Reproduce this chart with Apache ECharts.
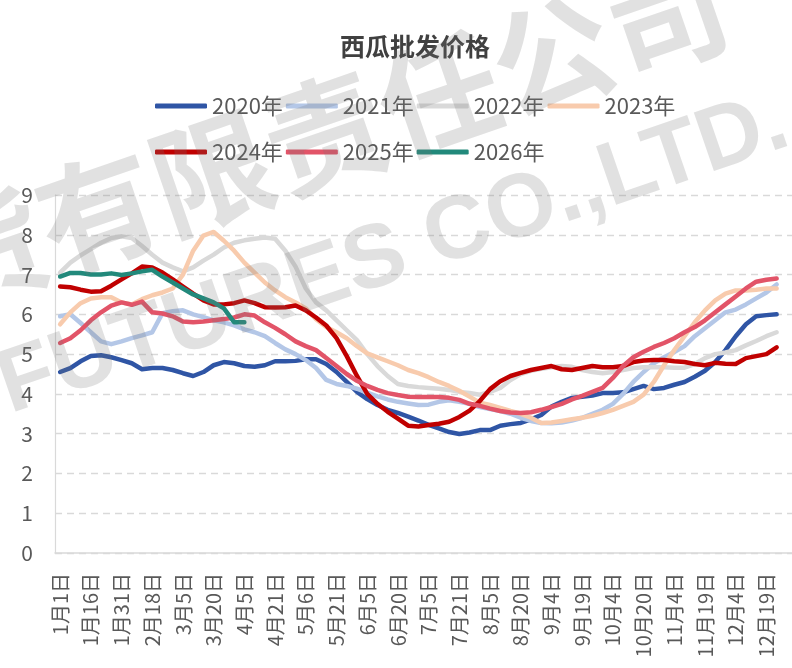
<!DOCTYPE html>
<html>
<head>
<meta charset="utf-8">
<title>西瓜批发价格</title>
<script src="https://cdn.jsdelivr.net/npm/echarts@6/dist/echarts.min.js"></script>
<style>
  html, body { margin: 0; padding: 0; background: #fff; overflow: hidden; }
  #chart { width: 792px; height: 668px; }
</style>
</head>
<body>
<div id="chart"></div>
<script>
// x categories (labels every 3rd point)
var dates = [
  '1月1日', '1月6日', '1月11日', '1月16日', '1月21日', '1月26日', '1月31日', '2月6日', '2月12日',
  '2月18日', '2月23日', '2月28日', '3月5日', '3月10日', '3月15日', '3月20日', '3月25日', '3月30日',
  '4月5日', '4月10日', '4月16日', '4月21日', '4月26日', '5月1日', '5月6日', '5月11日', '5月16日',
  '5月21日', '5月26日', '5月31日', '6月5日', '6月10日', '6月15日', '6月20日', '6月25日', '6月30日',
  '7月5日', '7月10日', '7月16日', '7月21日', '7月26日', '7月31日', '8月5日', '8月10日', '8月15日',
  '8月20日', '8月25日', '8月30日', '9月4日', '9月9日', '9月14日', '9月19日', '9月24日', '9月29日',
  '10月4日', '10月9日', '10月15日', '10月20日', '10月25日', '10月30日', '11月4日', '11月9日', '11月14日',
  '11月19日', '11月24日', '11月29日', '12月4日', '12月9日', '12月14日', '12月19日', '12月24日', '12月29日'
]

var y2020 = [4.55, 4.65, 4.82, 4.95, 4.97, 4.92, 4.85, 4.77, 4.62, 4.65, 4.65, 4.6, 4.52, 4.45, 4.55, 4.72,
  4.8, 4.77, 4.7, 4.68, 4.72, 4.82, 4.82, 4.83, 4.87, 4.87, 4.75, 4.55, 4.3, 4.05, 3.87, 3.72, 3.6, 3.52,
  3.43, 3.33, 3.22, 3.13, 3.04, 2.99, 3.03, 3.09, 3.09, 3.2, 3.24, 3.27, 3.36, 3.47, 3.68, 3.8, 3.9, 3.93,
  3.96, 4.02, 4.02, 4.04, 4.12, 4.2, 4.12, 4.15, 4.23, 4.3, 4.43, 4.58, 4.8, 5.1, 5.45, 5.75, 5.95, 5.98, 6.0]

var y2021 = [5.95, 6.0, 5.78, 5.55, 5.32, 5.25, 5.32, 5.4, 5.47, 5.55, 6.03, 6.08, 6.1, 6.0, 5.93, 5.85,
  5.8, 5.72, 5.62, 5.55, 5.45, 5.28, 5.12, 5.0, 4.85, 4.65, 4.35, 4.25, 4.2, 4.13, 4.03, 3.94, 3.86, 3.8,
  3.76, 3.72, 3.73, 3.8, 3.84, 3.8, 3.75, 3.67, 3.62, 3.57, 3.5, 3.4, 3.32, 3.27, 3.26, 3.28, 3.33, 3.4,
  3.5, 3.6, 3.75, 4.0, 4.3, 4.55, 4.77, 4.92, 5.05, 5.2, 5.45, 5.65, 5.85, 6.05, 6.12, 6.25, 6.4, 6.55, 6.75]

var y2022 = [7.05, 7.3, 7.48, 7.64, 7.8, 7.92, 7.96, 7.92, 7.72, 7.5, 7.3, 7.18, 7.08, 7.18, 7.35, 7.5,
  7.68, 7.8, 7.86, 7.9, 7.93, 7.9, 7.6, 7.2, 6.65, 6.3, 6.1, 5.85, 5.6, 5.35, 5.0, 4.7, 4.45, 4.25,
  4.2, 4.17, 4.15, 4.13, 4.1, 4.05, 4.02, 3.98, 4.05, 4.15, 4.35, 4.5, 4.58, 4.63, 4.67, 4.7, 4.68, 4.6,
  4.55, 4.52, 4.55, 4.6, 4.65, 4.67, 4.67, 4.67, 4.66, 4.66, 4.75, 4.9, 5.0, 5.04, 5.1, 5.22, 5.33, 5.45, 5.55]

var y2023 = [5.75, 6.05, 6.28, 6.4, 6.43, 6.43, 6.3, 6.25, 6.38, 6.48, 6.55, 6.65, 7.0, 7.6, 7.98, 8.07,
  7.85, 7.6, 7.3, 7.05, 6.8, 6.6, 6.43, 6.3, 6.15, 5.88, 5.68, 5.55, 5.4, 5.2, 5.02, 4.92, 4.82, 4.72,
  4.6, 4.52, 4.42, 4.3, 4.2, 4.08, 3.93, 3.78, 3.72, 3.65, 3.57, 3.5, 3.4, 3.27, 3.28, 3.32, 3.36, 3.4,
  3.45, 3.52, 3.6, 3.7, 3.8, 3.98, 4.3, 4.72, 5.1, 5.45, 5.8, 6.1, 6.35, 6.52, 6.6, 6.6, 6.62, 6.65, 6.65]

var y2024 = [6.7, 6.68, 6.62, 6.57, 6.58, 6.72, 6.88, 7.03, 7.2, 7.18, 7.05, 6.88, 6.7, 6.52, 6.35, 6.25,
  6.25, 6.28, 6.35, 6.28, 6.18, 6.17, 6.18, 6.22, 6.1, 5.92, 5.72, 5.4, 4.95, 4.45, 4.0, 3.75, 3.55, 3.38,
  3.2, 3.18, 3.22, 3.25, 3.3, 3.42, 3.58, 3.82, 4.12, 4.32, 4.45, 4.53, 4.6, 4.65, 4.7, 4.62, 4.6, 4.65,
  4.7, 4.67, 4.67, 4.7, 4.8, 4.84, 4.85, 4.85, 4.82, 4.8, 4.75, 4.72, 4.78, 4.76, 4.75, 4.9, 4.95, 5.0, 5.17]

var y2025 = [5.28, 5.4, 5.6, 5.85, 6.05, 6.22, 6.3, 6.24, 6.32, 6.05, 6.02, 5.95, 5.82, 5.8, 5.82, 5.85,
  5.88, 5.92, 6.0, 5.97, 5.8, 5.66, 5.5, 5.32, 5.2, 5.1, 4.9, 4.7, 4.5, 4.33, 4.2, 4.1, 4.02, 3.97,
  3.93, 3.92, 3.92, 3.92, 3.9, 3.85, 3.75, 3.7, 3.63, 3.57, 3.53, 3.52, 3.54, 3.6, 3.67, 3.75, 3.86, 3.95,
  4.05, 4.15, 4.4, 4.7, 4.92, 5.06, 5.18, 5.28, 5.4, 5.55, 5.68, 5.85, 6.05, 6.25, 6.45, 6.65, 6.82, 6.87, 6.9]

var y2026 = [6.95, 7.04, 7.04, 7.0, 7.0, 7.03, 6.99, 7.03, 7.08, 7.12, 6.95, 6.8, 6.65, 6.5, 6.4, 6.3,
  6.15, 5.8, 5.8]

var years = ['2020年', '2021年', '2022年', '2023年', '2024年', '2025年', '2026年']
var values = [y2020, y2021, y2022, y2023, y2024, y2025, y2026]
var colors = ['#2F55A5', '#B4C7E7', '#D9D9D9', '#F8CBAD', '#C00000', '#E25468', '#22897B']

var font = '"Noto Sans CJK SC", "Noto Sans", sans-serif'

var chart = echarts.init(document.getElementById('chart'))

var series = years.map(function (name, i) {
  return {
    name: name,
    type: 'line',
    data: values[i],
    symbol: 'none',
    smooth: false,
    animation: false,
    itemStyle: { color: colors[i] },
    lineStyle: { color: colors[i], width: 4.5, cap: 'round', join: 'round' }
  }
})

function legendRow(names, top) {
  return {
    data: names,
    left: 150,
    top: top,
    icon: 'roundRect',
    itemWidth: 52,
    itemHeight: 5,
    itemGap: 3,
    textStyle: { color: '#595959', fontSize: 22, fontFamily: font }
  }
}

var watermark = 'rgba(120,120,120,0.22)'

chart.setOption({
  backgroundColor: '#fff',
  color: colors,
  title: {
    text: '西瓜批发价格',
    left: 335,
    top: 29,
    textStyle: { color: '#404040', fontSize: 25, fontWeight: 'bold', fontFamily: font }
  },
  legend: [
    legendRow(years.slice(0, 4), 90),
    legendRow(years.slice(4), 136)
  ],
  grid: {
    left: 55,
    top: 195,
    width: 752,
    height: 358
  },
  xAxis: {
    type: 'category',
    data: dates,
    boundaryGap: true,
    axisLine: { lineStyle: { color: '#D9D9D9', width: 1.5 } },
    axisTick: { show: false },
    axisLabel: {
      interval: 2,
      rotate: 90,
      margin: 20,
      color: '#595959',
      fontSize: 20,
      fontFamily: font
    }
  },
  yAxis: {
    type: 'value',
    min: 0,
    max: 9,
    interval: 1,
    axisLine: { show: true, lineStyle: { color: '#D9D9D9', width: 1.2 } },
    axisTick: { show: false },
    axisLabel: { margin: 22, color: '#595959', fontSize: 21, fontFamily: font },
    splitLine: { lineStyle: { color: '#D9D9D9', width: 1.3, type: [7, 5] } }
  },
  // faint company watermark over the plot
  graphic: [
    {
      type: 'text',
      x: -72,
      y: 270,
      rotation: 19 * Math.PI / 180,
      z: 100,
      silent: true,
      style: {
        text: '货有限责任公司',
        fill: watermark,
        fontSize: 120,
        fontWeight: 'bold',
        fontFamily: font,
        textVerticalAlign: 'middle'
      }
    },
    {
      type: 'text',
      x: 2,
      y: 390,
      rotation: 19 * Math.PI / 180,
      z: 100,
      silent: true,
      style: {
        text: 'FUTURES CO.,LTD.',
        fill: watermark,
        fontSize: 90,
        fontWeight: 'bold',
        fontFamily: '"Liberation Sans", Arial, sans-serif',
        textVerticalAlign: 'middle'
      }
    }
  ],
  series: series
})
</script>
</body>
</html>
